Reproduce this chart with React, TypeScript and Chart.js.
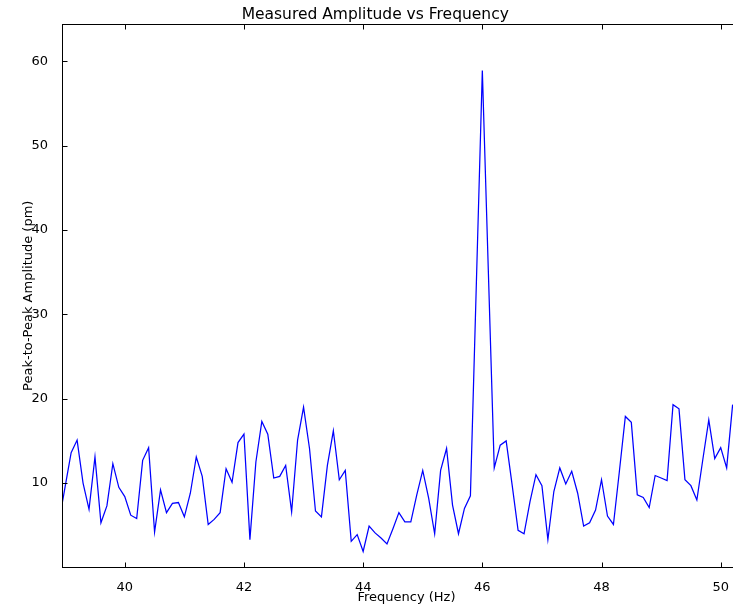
import { useEffect, useRef } from "react";
import { Chart, registerables } from "chart.js";

Chart.register(...registerables);

const frequencies = [
  38.9, 39.0, 39.1, 39.2, 39.3, 39.4, 39.5, 39.6, 39.7, 39.8, 39.9,
  40.0, 40.1, 40.2, 40.3, 40.4, 40.5, 40.6, 40.7, 40.8, 40.9,
  41.0, 41.1, 41.2, 41.3, 41.4, 41.5, 41.6, 41.7, 41.8, 41.9,
  42.0, 42.1, 42.2, 42.3, 42.4, 42.5, 42.6, 42.7, 42.8, 42.9,
  43.0, 43.1, 43.2, 43.3, 43.4, 43.5, 43.6, 43.7, 43.8, 43.9,
  44.0, 44.1, 44.2, 44.3, 44.4, 44.5, 44.6, 44.7, 44.8, 44.9,
  45.0, 45.1, 45.2, 45.3, 45.4, 45.5, 45.6, 45.7, 45.8, 45.9,
  46.0, 46.1, 46.2, 46.3, 46.4, 46.5, 46.6, 46.7, 46.8, 46.9,
  47.0, 47.1, 47.2, 47.3, 47.4, 47.5, 47.6, 47.7, 47.8, 47.9,
  48.0, 48.1, 48.2, 48.3, 48.4, 48.5, 48.6, 48.7, 48.8, 48.9,
  49.0, 49.1, 49.2, 49.3, 49.4, 49.5, 49.6, 49.7, 49.8, 49.9,
  50.0, 50.1, 50.2,
];

const amplitudes = [
  5.6, 9.6, 13.6, 15.1, 10.0, 6.9, 13.1, 5.3, 7.3, 12.3, 9.5,
  8.4, 6.2, 5.8, 12.7, 14.2, 4.2, 9.2, 6.5, 7.6, 7.7,
  6.0, 8.8, 13.1, 10.8, 5.1, 5.7, 6.5, 11.7, 10.1, 14.8,
  15.8, 3.3, 12.5, 17.3, 15.8, 10.6, 10.8, 12.1, 6.6, 15.1,
  19.0, 14.1, 6.7, 6.0, 12.1, 16.2, 10.4, 11.5, 3.1, 3.9,
  1.9, 4.9, 4.1, 3.5, 2.8, 4.6, 6.5, 5.4, 5.4, 8.6,
  11.5, 8.2, 4.0, 11.5, 14.1, 7.4, 4.0, 7.0, 8.5, 33.7,
  58.9, 35.3, 11.8, 14.5, 15.0, 9.8, 4.4, 4.0, 7.8, 11.0,
  9.7, 3.3, 9.0, 11.8, 9.9, 11.4, 8.8, 4.9, 5.3, 6.8,
  10.4, 6.1, 5.1, 11.4, 17.9, 17.2, 8.6, 8.3, 7.1, 10.9,
  10.6, 10.3, 19.3, 18.8, 10.4, 9.7, 8.0, 12.8, 17.5, 12.9,
  14.2, 11.8, 19.3,
];

const xTickValues = [40, 42, 44, 46, 48, 50];
const yTickValues = [10, 20, 30, 40, 50, 60];
const xRange = [38.955, 50.5];
const yRange = [0, 64.4];

const TITLE = "Measured Amplitude vs Frequency";
const X_LABEL = "Frequency (Hz)";
const Y_LABEL = "Peak-to-Peak Amplitude (pm)";

const FONT = "'DejaVu Sans', sans-serif";

const framePlugin = {
  id: "mplFrame",
  afterDatasetsDraw(chart: any) {
    const { ctx, chartArea: a, scales } = chart;
    const L = Math.floor(a.left) + 0.5;
    const R = Math.floor(a.right) + 0.5;
    const T = Math.floor(a.top) + 0.5;
    const B = Math.floor(a.bottom) + 0.5;
    const tl = 5;
    ctx.save();
    ctx.strokeStyle = "#000000";
    ctx.lineWidth = 1;
    ctx.beginPath();
    for (const t of scales.x.ticks) {
      const px = Math.round(scales.x.getPixelForValue(t.value)) + 0.5;
      ctx.moveTo(px, B);
      ctx.lineTo(px, B - tl);
      ctx.moveTo(px, T);
      ctx.lineTo(px, T + tl);
    }
    for (const t of scales.y.ticks) {
      const py = Math.round(scales.y.getPixelForValue(t.value)) + 0.5;
      ctx.moveTo(L, py);
      ctx.lineTo(L + tl, py);
      ctx.moveTo(R, py);
      ctx.lineTo(R - tl, py);
    }
    ctx.stroke();
    ctx.strokeRect(L, T, R - L, B - T);
    ctx.restore();
  },
};

export default function App() {
  const ref = useRef<HTMLCanvasElement | null>(null);

  useEffect(() => {
    if (!ref.current) return;
    const points = frequencies.map((f, i) => ({ x: f, y: amplitudes[i] }));
    const chart = new Chart(ref.current, {
      type: "line",
      data: {
        datasets: [
          {
            data: points,
            borderColor: "#0000ff",
            borderWidth: 1.25,
            pointRadius: 0,
            tension: 0,
            fill: false,
            clip: 0,
          } as any,
        ],
      },
      options: {
        animation: false,
        responsive: false,
        devicePixelRatio: 1,
        layout: { padding: { left: 0, right: 19.5, top: 0, bottom: 0 } },
        plugins: {
          legend: { display: false },
          tooltip: { enabled: false },
          title: {
            display: true,
            text: TITLE,
            color: "#000000",
            font: { family: FONT, size: 15.5, weight: "normal" },
            padding: { top: 5.2, bottom: 0.2 },
          },
        },
        scales: {
          x: {
            type: "linear",
            min: xRange[0],
            max: xRange[1],
            grid: { display: false },
            border: { display: false },
            afterBuildTicks: (scale: any) => {
              scale.ticks = xTickValues.map((v) => ({ value: v }));
            },
            afterFit: (scale: any) => {
              scale.height = 39.5;
            },
            ticks: {
              color: "#000000",
              font: { family: FONT, size: 13 },
              padding: 4.5,
              maxRotation: 0,
              autoSkip: false,
              callback: (v: any) => String(v),
            },
            title: {
              display: true,
              text: X_LABEL,
              color: "#000000",
              font: { family: FONT, size: 13 },
              padding: { top: 0, bottom: 1.4 },
            },
          },
          y: {
            type: "linear",
            min: yRange[0],
            max: yRange[1],
            grid: { display: false },
            border: { display: false },
            afterBuildTicks: (scale: any) => {
              scale.ticks = yTickValues.map((v) => ({ value: v }));
            },
            afterFit: (scale: any) => {
              scale.width = 62.5;
            },
            ticks: {
              color: "#000000",
              font: { family: FONT, size: 13 },
              padding: 6.5,
              autoSkip: false,
              callback: (v: any) => String(v),
            },
            title: {
              display: true,
              text: Y_LABEL,
              color: "#000000",
              font: { family: FONT, size: 13 },
              padding: { top: 20.5, bottom: 0 },
            },
          },
        },
      },
      plugins: [framePlugin],
    });
    return () => chart.destroy();
  }, []);

  return (
    <div
      style={{
        position: "fixed",
        left: 0,
        top: 0,
        width: 733,
        height: 607,
        overflow: "hidden",
        background: "#ffffff",
      }}
    >
      <canvas ref={ref} width={770} height={607} style={{ display: "block" }} />
    </div>
  );
}
